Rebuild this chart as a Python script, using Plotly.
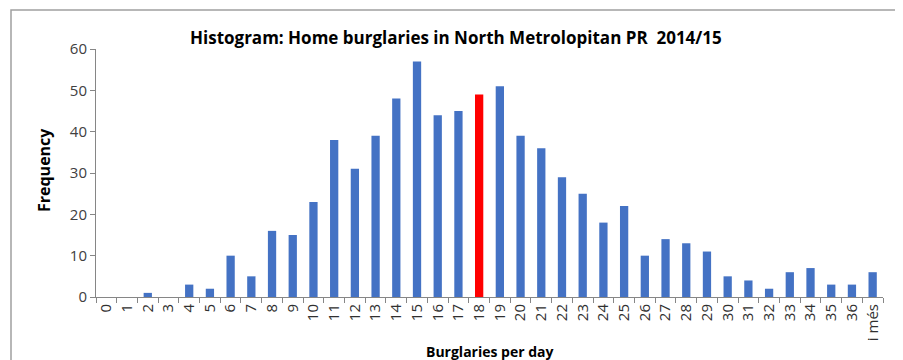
import plotly.graph_objects as go

categories = [str(i) for i in range(37)] + ["i més"]
frequency = [0, 0, 1, 0, 3, 2, 10, 5, 16, 15, 23, 38, 31, 39, 48, 57, 44, 45, 49, 51,
             39, 36, 29, 25, 18, 22, 10, 14, 13, 11, 5, 4, 2, 6, 7, 3, 3, 6]
highlight = "18"

BLUE = "#4472C4"
RED = "#FF0000"
colors = [RED if c == highlight else BLUE for c in categories]

# page offset of the plot div (default body margin)
OFF = 8
W, H = 903 - OFF, 360 - OFF
PL, PR, PT, PB = 96, 883, 49, 297          # plot area edges in page pixels
L, R, T, B = PL - OFF, W - (PR - OFF), PT - OFF, H - (PB - OFF)

fig = go.Figure(go.Bar(x=categories, y=frequency, marker_color=colors,
                       marker_line_width=0, width=0.4))

font = "'Open Sans', sans-serif"
fig.update_layout(
    width=W, height=H, margin=dict(l=L, r=R, t=T, b=B),
    paper_bgcolor="white", plot_bgcolor="white",
    showlegend=False,
    font=dict(family=font, color="#404040", size=13),
)
fig.update_xaxes(type="category", tickson="boundaries", ticks="outside", ticklen=5,
                 tickcolor="#868686", showline=True, linecolor="#868686", linewidth=1,
                 tickangle=-90, tickfont=dict(size=15, color="#303030"),
                 showgrid=False, range=[-0.5, 37.5])
fig.update_yaxes(range=[0, 60], dtick=10, ticks="outside", ticklen=5,
                 tickcolor="#868686", showline=True, linecolor="#868686", linewidth=1,
                 showgrid=False, zeroline=False, tickfont=dict(size=15, color="#404040"))

def px_x(x):
    return (x - PL) / (PR - PL)

def px_y(y):
    return (PB - y) / (PB - PT)

fig.add_shape(type="rect", xref="paper", yref="paper",
              x0=px_x(11), x1=px_x(901), y0=px_y(380), y1=px_y(10),
              line=dict(color="#A0A0A0", width=1.5), layer="below")

fig.add_annotation(text="<b>Histogram: Home burglaries in North Metrolopitan PR  2014/15</b>",
                   xref="paper", yref="paper", x=px_x(456), y=px_y(37),
                   showarrow=False, font=dict(size=17, color="#000000"),
                   xanchor="center", yanchor="middle")
fig.add_annotation(text="<b>Frequency</b>", xref="paper", yref="paper",
                   x=px_x(44), y=px_y(170), textangle=-90, showarrow=False,
                   font=dict(size=16, color="#000000"), xanchor="center", yanchor="middle")
fig.add_annotation(text="<b>Burglaries per day</b>", xref="paper", yref="paper",
                   x=px_x(490), y=px_y(351), showarrow=False,
                   font=dict(size=14, color="#000000"), xanchor="center", yanchor="middle")

fig.write_html("out.html")
